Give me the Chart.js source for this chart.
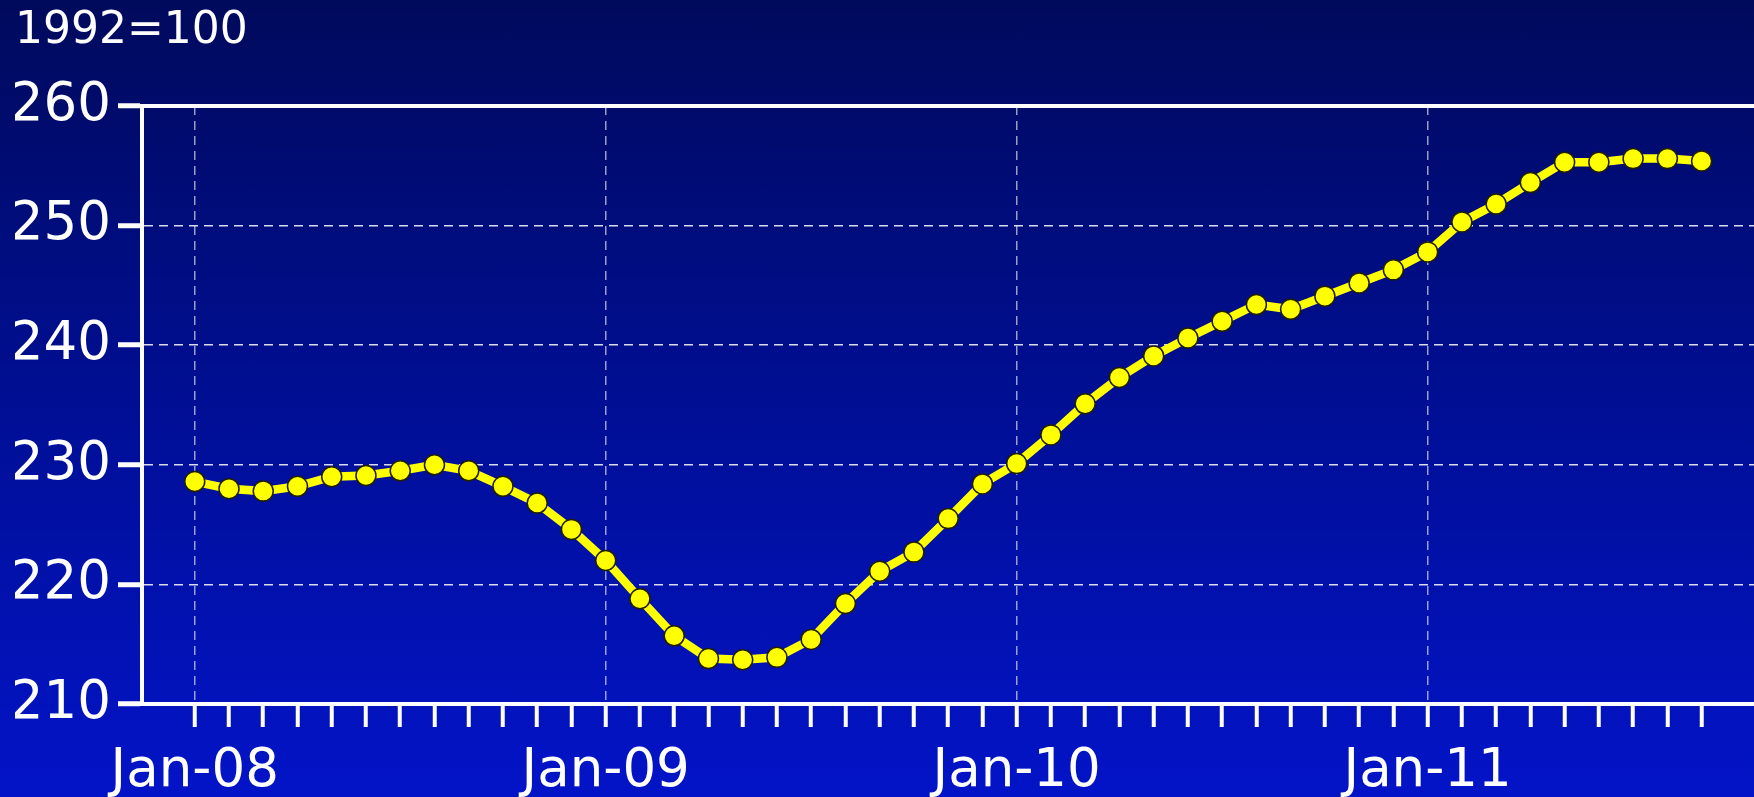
<!DOCTYPE html>
<html lang="en">

<head>
    <meta charset="UTF-8">
    <title>House price index 1992=100</title>
    <script src="https://cdn.jsdelivr.net/npm/chart.js"></script>
    <style>
        * {
            margin: 0;
            padding: 0;
            box-sizing: border-box;
        }

        body {
            width: 1754px;
            height: 797px;
            overflow: hidden;
            background: linear-gradient(to bottom, #000a5c 0%, #000e8e 45%, #0314c8 100%);
        }

        .chart-box {
            position: relative;
            width: 1754px;
            height: 797px;
        }
    </style>
</head>

<body>
    <div class="chart-box">
        <canvas id="indexChart"></canvas>
    </div>

    <script>
        // monthly categories, Jan-08 .. Sep-11
        const months = [
            'Jan-08', 'Feb-08', 'Mar-08', 'Apr-08', 'May-08', 'Jun-08', 'Jul-08', 'Aug-08', 'Sep-08', 'Oct-08', 'Nov-08', 'Dec-08',
            'Jan-09', 'Feb-09', 'Mar-09', 'Apr-09', 'May-09', 'Jun-09', 'Jul-09', 'Aug-09', 'Sep-09', 'Oct-09', 'Nov-09', 'Dec-09',
            'Jan-10', 'Feb-10', 'Mar-10', 'Apr-10', 'May-10', 'Jun-10', 'Jul-10', 'Aug-10', 'Sep-10', 'Oct-10', 'Nov-10', 'Dec-10',
            'Jan-11', 'Feb-11', 'Mar-11', 'Apr-11', 'May-11', 'Jun-11', 'Jul-11', 'Aug-11', 'Sep-11'
        ];

        const indexValues = [
            228.6, 228.0, 227.8, 228.2, 229.0, 229.1, 229.5, 230.0, 229.5, 228.2, 226.8, 224.6,
            222.0, 218.8, 215.7, 213.8, 213.7, 213.9, 215.4, 218.4, 221.1, 222.7, 225.5, 228.4,
            230.1, 232.5, 235.1, 237.3, 239.1, 240.6, 242.0, 243.4, 243.0, 244.1, 245.2, 246.3,
            247.8, 250.3, 251.8, 253.6, 255.3, 255.3, 255.6, 255.6, 255.4
        ];

        const labelledMonths = ['Jan-08', 'Jan-09', 'Jan-10', 'Jan-11'];
        const yTicks = [210, 220, 230, 240, 250, 260];

        const fontFamily = "'DejaVu Sans', sans-serif";

        // solid white line along the top of the plot (260 level)
        const topBorder = {
            id: 'topBorder',
            afterDraw(chart) {
                const y = chart.scales.y;
                const ctx = chart.ctx;
                const py = y.getPixelForValue(y.max);
                ctx.save();
                ctx.strokeStyle = '#ffffff';
                ctx.lineWidth = 4;
                ctx.beginPath();
                ctx.moveTo(chart.chartArea.left - 24, py);
                ctx.lineTo(chart.chartArea.right, py);
                ctx.stroke();
                ctx.restore();
            }
        };

        const ctx = document.getElementById('indexChart').getContext('2d');
        const indexChart = new Chart(ctx, {
            type: 'line',
            data: {
                datasets: [{
                    label: '1992=100',
                    data: indexValues.map((v, i) => ({ x: i, y: v })),
                    borderColor: '#ffff00',
                    borderWidth: 8.5,
                    tension: 0,
                    pointRadius: 10,
                    pointBackgroundColor: '#ffff00',
                    pointBorderColor: '#202000',
                    pointBorderWidth: 1.5
                }]
            },
            options: {
                responsive: true,
                maintainAspectRatio: false,
                animation: false,
                layout: {
                    autoPadding: false,
                    padding: { left: 15, right: 0, top: 0, bottom: 0 }
                },
                plugins: {
                    legend: { display: false },
                    tooltip: { enabled: false },
                    title: {
                        display: true,
                        text: '1992=100',
                        align: 'start',
                        color: '#ffffff',
                        font: { family: fontFamily, size: 44, weight: 'normal' },
                        padding: { top: 5.6, bottom: 47.6 }
                    }
                },
                scales: {
                    x: {
                        type: 'linear',
                        min: -1.54,
                        max: 45.53,
                        afterBuildTicks: (scale) => {
                            scale.ticks = months.map((m, i) => ({ value: i }));
                        },
                        afterFit: (scale) => {
                            scale.height = 93;
                        },
                        ticks: {
                            autoSkip: false,
                            maxRotation: 0,
                            color: '#ffffff',
                            padding: 13,
                            font: { family: fontFamily, size: 53 },
                            callback: (value) => labelledMonths.includes(months[value]) ? months[value] : ''
                        },
                        grid: {
                            drawOnChartArea: true,
                            color: (c) => (c.tick && labelledMonths.includes(months[c.tick.value])) ? 'rgba(255,255,255,0.6)' : 'rgba(0,0,0,0)',
                            lineWidth: 1.5,
                            tickColor: '#ffffff',
                            tickWidth: 4,
                            tickLength: 23
                        },
                        border: {
                            display: true,
                            color: '#ffffff',
                            width: 4,
                            dash: [9, 6]
                        }
                    },
                    y: {
                        min: 210,
                        max: 260,
                        afterBuildTicks: (scale) => {
                            scale.ticks = yTicks.map(v => ({ value: v }));
                        },
                        afterFit: (scale) => {
                            scale.width = 127;
                        },
                        ticks: {
                            color: '#ffffff',
                            padding: 7,
                            font: { family: fontFamily, size: 53 }
                        },
                        grid: {
                            color: 'rgba(255,255,255,0.85)',
                            lineWidth: 1.5,
                            tickColor: '#ffffff',
                            tickWidth: 5,
                            tickLength: 24
                        },
                        border: {
                            display: true,
                            color: '#ffffff',
                            width: 4,
                            dash: [9, 6]
                        }
                    }
                }
            },
            plugins: [topBorder]
        });
    </script>
</body>

</html>
